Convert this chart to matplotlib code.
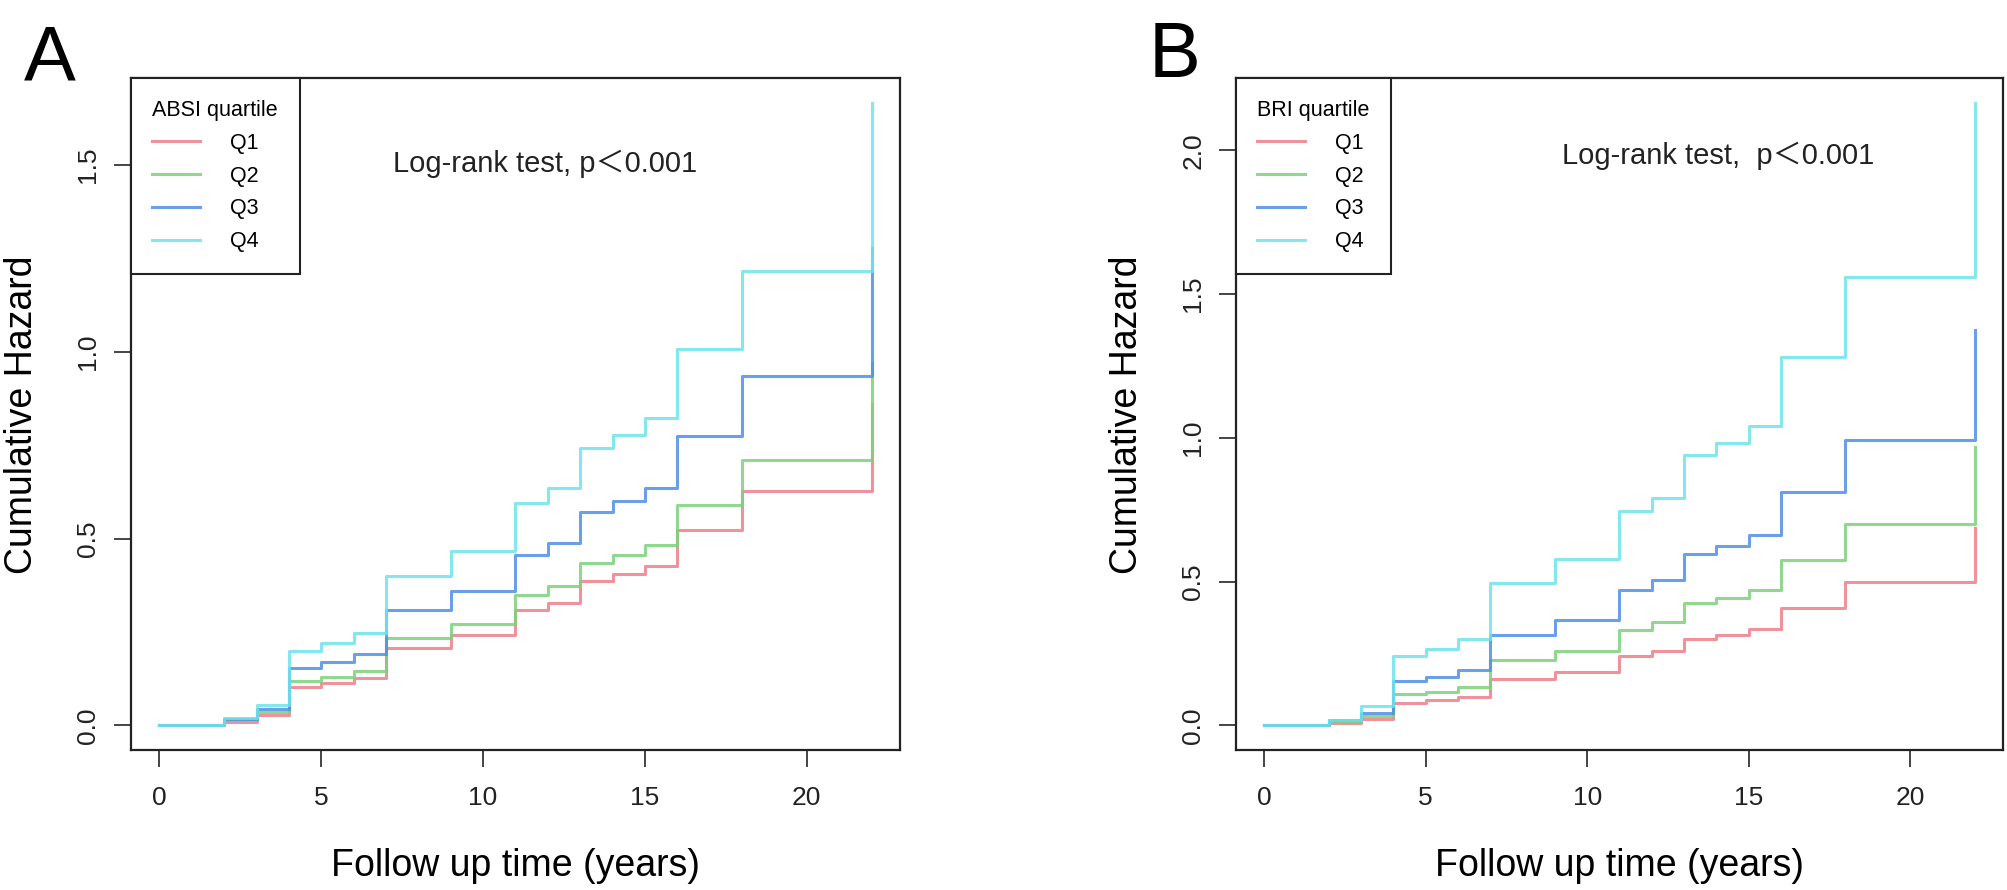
import numpy as np
import matplotlib
matplotlib.use('Agg')
import matplotlib.pyplot as plt

plt.rcParams['font.family'] = ['Liberation Sans', 'Noto Sans CJK SC']

# follow-up times (years) where the cumulative hazard steps
times = [0, 2, 3, 4, 5, 6, 7, 9, 11, 12, 13, 14, 15, 16, 18, 22]

# Panel A: ABSI quartiles
absi_q1 = [0, 0.01, 0.029, 0.104, 0.113, 0.126, 0.207, 0.243, 0.308, 0.328, 0.386, 0.404, 0.426, 0.523, 0.628, 0.861]
absi_q2 = [0, 0.014, 0.035, 0.12, 0.129, 0.145, 0.234, 0.272, 0.348, 0.372, 0.435, 0.456, 0.483, 0.59, 0.711, 0.97]
absi_q3 = [0, 0.018, 0.045, 0.154, 0.169, 0.19, 0.308, 0.359, 0.457, 0.487, 0.571, 0.6, 0.635, 0.775, 0.934, 1.278]
absi_q4 = [0, 0.019, 0.054, 0.2, 0.221, 0.247, 0.401, 0.466, 0.595, 0.634, 0.743, 0.778, 0.822, 1.008, 1.216, 1.665]

# Panel B: BRI quartiles
bri_q1 = [0, 0.007, 0.023, 0.079, 0.088, 0.1, 0.16, 0.185, 0.241, 0.258, 0.302, 0.316, 0.334, 0.408, 0.499, 0.687]
bri_q2 = [0, 0.012, 0.032, 0.108, 0.117, 0.134, 0.226, 0.26, 0.333, 0.358, 0.425, 0.443, 0.471, 0.576, 0.699, 0.967]
bri_q3 = [0, 0.017, 0.044, 0.154, 0.169, 0.192, 0.313, 0.367, 0.472, 0.504, 0.596, 0.625, 0.663, 0.812, 0.992, 1.374]
bri_q4 = [0, 0.02, 0.067, 0.242, 0.267, 0.299, 0.494, 0.578, 0.745, 0.791, 0.94, 0.981, 1.041, 1.281, 1.561, 2.164]

labels = ['Q1', 'Q2', 'Q3', 'Q4']
colors = ['#EC7F8A', '#7DD27A', '#4F8FE3', '#6FE3EA']

x_ticks = [0, 5, 10, 15, 20]
absi_yticks = [0.0, 0.5, 1.0, 1.5]
bri_yticks = [0.0, 0.5, 1.0, 1.5, 2.0]


def r_lims(vals):
    # R style 4% padding
    lo, hi = min(vals), max(vals)
    pad = (hi - lo) * 0.04
    return lo - pad, hi + pad


def draw_panel(ax, series, legend_title, yticks, test_text, text_x, text_y):
    for vals, lab, col in zip(series, labels, colors):
        ax.step(times, vals, where='post', color=col, lw=2.2, alpha=0.85, label=lab)

    all_vals = [v for s in series for v in s]
    ax.set_xlim(*r_lims(times))
    ax.set_ylim(*r_lims(all_vals))
    ax.set_xticks(x_ticks)
    ax.set_xticklabels([str(t) for t in x_ticks])
    ax.set_yticks(yticks)
    ax.set_yticklabels([f'{t:.1f}' for t in yticks], rotation=90, va='center')

    for sp in ax.spines.values():
        sp.set_color('#222222')
        sp.set_linewidth(1.6)
    ax.tick_params(axis='both', direction='out', length=12, width=1.4,
                   colors='#444444', labelcolor='#222222', labelsize=19)
    ax.tick_params(axis='x', pad=14)
    ax.tick_params(axis='y', pad=10)

    ax.set_xlabel('Follow up time (years)', fontsize=27)
    ax.set_ylabel('Cumulative Hazard', fontsize=27)
    ax.xaxis.set_label_coords(0.5, -0.145)
    ax.yaxis.set_label_coords(-0.118, 0.5)

    leg = ax.legend(title=legend_title, loc='upper left', bbox_to_anchor=(0, 1),
                    borderaxespad=0, fontsize=15.5, title_fontsize=15.5,
                    fancybox=False, edgecolor='#222222', framealpha=1,
                    handlelength=2.2, handletextpad=1.4, labelspacing=0.55,
                    borderpad=1.0, alignment='left')
    leg.get_frame().set_linewidth(1.5)
    for line in leg.get_lines():
        line.set_linewidth(2.2)

    ax.text(text_x, text_y, test_text, transform=ax.transAxes,
            ha='center', va='center', fontsize=21, color='#222222')


fig = plt.figure(figsize=(20.08, 8.9), dpi=100)
ax_a = fig.add_axes([0.0652, 0.157, 0.383, 0.755])
ax_b = fig.add_axes([0.6155, 0.157, 0.382, 0.755])

draw_panel(ax_a, [absi_q1, absi_q2, absi_q3, absi_q4], 'ABSI quartile',
           absi_yticks, 'Log-rank test, p\uff1c0.001', 0.538, 0.873)
draw_panel(ax_b, [bri_q1, bri_q2, bri_q3, bri_q4], 'BRI quartile',
           bri_yticks, 'Log-rank test,  p\uff1c0.001', 0.628, 0.884)

fig.text(0.012, 0.91, 'A', fontsize=56, va='baseline')
fig.text(0.572, 0.913, 'B', fontsize=56, va='baseline')

fig.savefig('out.png', dpi=100, facecolor='white')
